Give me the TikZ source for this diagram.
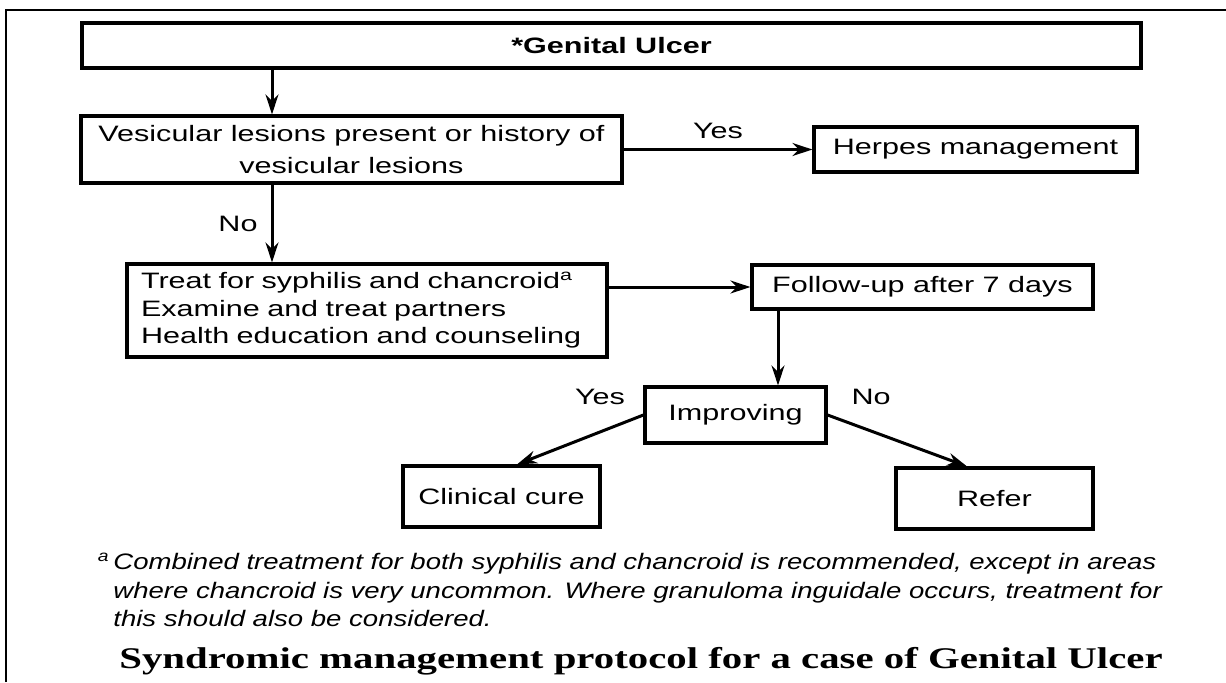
\documentclass[tikz,border=0pt]{standalone}
\usepackage{fontspec}
\setmainfont{Liberation Sans}[FakeStretch=1.37]
\newfontfamily\notefont{Liberation Sans}[FakeStretch=1.23]
\newfontfamily\capfont{Liberation Serif}[FakeStretch=1.36]
\usetikzlibrary{arrows.meta}

\begin{document}
\begin{tikzpicture}
	[
		x=0.5pt, y=-0.5pt,
		every node/.style = {font=\fontsize{11.15}{16}\selectfont},
		box/.style = {
			shape=rectangle, draw, line width=1.6pt,
			align=center, inner sep=0pt
		},
		arr/.style = {line width=1.5pt, -{Stealth[length=10pt,width=6.5pt]}},
		answer/.style = {inner sep=4.5pt}
	]
	\useasboundingbox (0,0) rectangle (1226,682);
	\draw[line width=0.9pt] (6,682) -- (6,10) -- (1226,10);

	\node[box, minimum width=529.5pt, minimum height=22.5pt] (ulcer) at (611.5,45.5) {\textbf{*Genital Ulcer}};
	\node[box, minimum width=270.5pt, minimum height=33.5pt] (vesic) at (351.5,149.5)
		{Vesicular lesions present or history of\\vesicular lesions};
	\node[box, minimum width=161.5pt, minimum height=22.5pt] (herpes) at (975.5,149.5) {Herpes management};
	\node[box, text width=226pt, inner xsep=7pt, minimum height=46.5pt, align=left,
		font=\fontsize{11.15}{13.75}\selectfont] (treat) at (367,310.5)
		{Treat for syphilis and chancroid\textsuperscript{a}\\Examine and treat partners\\Health education and counseling};
	\node[box, minimum width=170.5pt, minimum height=22pt] (follow) at (922.5,287) {Follow-up after 7 days};
	\node[box, minimum width=90.5pt, minimum height=28pt] (improv) at (735.5,415) {Improving};
	\node[box, minimum width=98.5pt, minimum height=30.5pt] (cure) at (501.5,496.5) {Clinical cure};
	\node[box, minimum width=98.5pt, minimum height=30.5pt] (refer) at (994.5,498.5) {Refer};

	\coordinate (stem) at (272,0);
	\coordinate (drop) at (778,0);
	\draw[arr] (ulcer.south -| stem) -- (vesic.north -| stem);
	\draw[arr] (vesic) -- node[answer, above] {Yes} (herpes);
	\draw[arr] (vesic.south -| stem) -- node[answer, left=2pt] {No} (treat.north -| stem);
	\draw[arr] (treat.east |- follow) -- (follow.west);
	\draw[arr] (follow.south -| drop) -- (improv.north -| drop);
	\draw[arr] (improv.west) -- node[answer, above left, pos=0, xshift=-4pt] {Yes} ([xshift=7.75pt]cure.north);
	\draw[arr] (improv.east) -- node[answer, above right, pos=0, xshift=6.75pt] {No} ([xshift=-13.75pt]refer.north);

	\node[anchor=north west, inner sep=0pt, align=left,
		font=\notefont\fontsize{11.2}{14.25}\selectfont\itshape] (note) at (113,553)
		{\llap{\textsuperscript{a}\,}Combined treatment for both syphilis and chancroid is recommended, except in areas\\
		where chancroid is very uncommon. Where granuloma inguidale occurs, treatment for\\
		this should also be considered.};
	\node[anchor=base, inner sep=0pt, font=\capfont\bfseries\fontsize{15}{18}\selectfont] (caption) at (641,668)
		{Syndromic management protocol for a case of Genital Ulcer};
\end{tikzpicture}
\end{document}
